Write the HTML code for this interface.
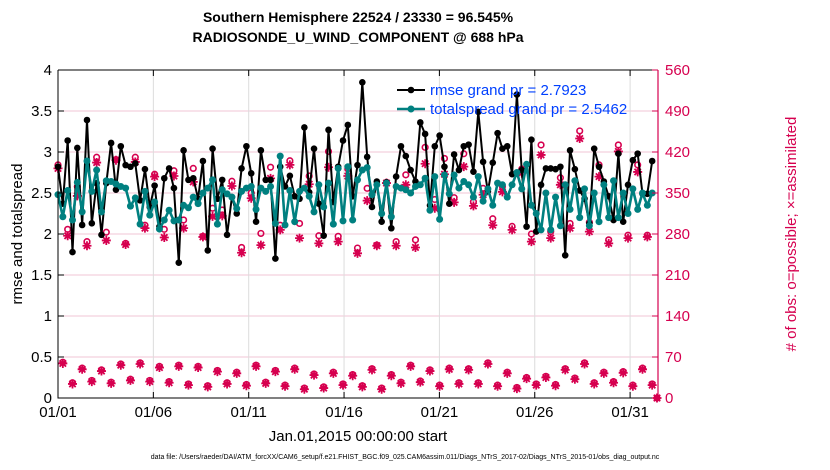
<!DOCTYPE html>
<html><head><meta charset="utf-8">
<style>
html,body{margin:0;padding:0;background:#fff;}
svg{display:block;font-family:"Liberation Sans",Arial,sans-serif;}
</style></head>
<body>
<svg id="chart" width="830" height="470" viewBox="0 0 830 470" xmlns="http://www.w3.org/2000/svg">
<rect x="0" y="0" width="830" height="470" fill="#fff"/>
<text x="358" y="22" text-anchor="middle" font-size="14" font-weight="bold">Southern Hemisphere 22524 / 23330 = 96.545%</text>
<text x="358" y="42" text-anchor="middle" font-size="14" font-weight="bold">RADIOSONDE_U_WIND_COMPONENT @ 688 hPa</text>
<g id="grid"></g>
<g id="obs"></g>
<g id="lines"></g>
<g id="axes"></g>
<text x="0" y="0" transform="translate(22,234) rotate(-90)" text-anchor="middle" font-size="15">rmse and totalspread</text>
<text x="0" y="0" transform="translate(796,234) rotate(-90)" text-anchor="middle" font-size="15" fill="#d6004f"># of obs: o=possible; ×=assimilated</text>
<text x="358" y="441" text-anchor="middle" font-size="15">Jan.01,2015 00:00:00 start</text>
<text x="405" y="459" text-anchor="middle" font-size="7">data file: /Users/raeder/DAI/ATM_forcXX/CAM6_setup/f.e21.FHIST_BGC.f09_025.CAM6assim.011/Diags_NTrS_2017-02/Diags_NTrS_2015-01/obs_diag_output.nc</text>
<g id="legend"></g>
</svg>
<script>
const rmse=[2.82,2.37,3.14,1.78,3.05,2.11,3.39,2.13,2.62,1.99,2.62,3.11,2.54,3.07,2.84,2.82,2.86,2.41,2.79,2.33,2.59,2.09,2.68,2.80,2.56,1.65,3.02,2.66,2.68,2.43,2.89,1.80,3.04,2.43,2.66,1.99,2.45,2.25,2.80,3.07,2.74,2.15,3.02,2.66,
2.66,1.70,2.82,2.58,2.71,2.46,2.43,3.30,2.51,3.04,2.37,1.98,3.27,2.39,2.82,3.14,3.33,2.46,2.84,3.85,2.94,2.33,2.64,2.15,2.63,2.07,2.70,3.07,2.95,2.78,2.64,3.36,3.22,2.35,3.07,3.20,2.82,2.37,2.97,2.78,3.07,
3.09,2.76,3.49,2.88,2.52,2.87,3.23,3.04,3.07,2.73,3.70,2.78,2.09,3.15,2.03,2.60,2.80,2.80,2.79,2.82,1.74,3.02,2.79,2.53,2.43,2.13,3.04,2.82,2.64,2.46,2.17,2.98,2.15,2.60,2.90,2.98,2.49,2.49,2.89,null];
const spread=[2.48,2.21,2.53,2.17,2.63,2.27,2.89,2.52,2.78,2.27,2.65,2.64,2.61,2.58,2.56,2.34,2.44,2.12,2.52,2.23,2.39,2.06,2.17,2.29,2.16,2.17,2.35,2.32,2.45,2.37,2.50,2.56,2.66,2.12,2.54,2.49,2.45,2.31,2.52,2.56,2.58,2.30,2.56,2.52,
2.58,2.13,2.95,2.11,2.53,2.15,2.52,2.56,2.46,2.27,2.60,2.33,2.62,2.12,2.80,2.16,2.82,2.17,2.66,2.78,2.81,2.48,2.60,2.25,2.62,2.21,2.58,2.56,2.54,2.50,2.58,2.60,2.68,2.29,2.70,2.18,2.72,2.49,2.72,2.56,2.64,
2.60,2.45,2.70,2.40,2.55,2.35,2.62,2.60,2.45,2.60,2.75,2.55,2.85,2.35,2.25,2.05,2.50,2.05,2.45,2.10,2.60,2.30,2.65,2.20,2.55,2.10,2.50,2.15,2.60,2.20,2.65,2.20,2.50,2.25,2.55,2.30,2.50,2.35,2.50,null];
const upperPossible=[398,288,361,267,411,283,407,264,411,295,382,288,388,304,392,276,324,321,370,257,350,281,
394,295,405,298,379,277,421,276,391,256,358,261,368,267,381,270,428,339,409,342,417,
335,358,306,361,293,391,280,432,284,376,298,456,300,398,270,432,278,398,278];
const upperAssim=[392,277,345,260,402,269,406,262,403,290,378,274,379,290,369,275,310,311,362,248,341,261,
375,287,398,273,365,264,394,267,379,247,337,260,367,260,364,257,400,324,382,334,395,
328,347,295,352,287,384,267,415,273,364,290,443,284,378,264,421,273,386,275];
const lowerAssim=[59,24,49,28,46,25,56,30,58,28,52,26,54,22,52,19,45,24,42,21,54,25,45,20,49,15,39,17,42,22,38,19,
48,15,38,25,54,27,46,20,49,24,48,24,58,20,42,16,33,22,35,21,48,32,58,24,42,26,43,20,49,22];
const lastObs=0;
const dayTicks=[0,5,10,15,20,25,30];
const dayLabels=["01/01","01/06","01/11","01/16","01/21","01/26","01/31"];
const leftTicks=[0,0.5,1,1.5,2,2.5,3,3.5,4];
const leftTickLabels=["0","0.5","1","1.5","2","2.5","3","3.5","4"];
const rightTicks=[0,70,140,210,280,350,420,490,560];
const legendLabels=["rmse grand pr = 2.7923","totalspread grand pr = 2.5462"];

const NS="http://www.w3.org/2000/svg";
const L=58,R=658,T=70,B=398;
const N=rmse.length;
const xi=i=>L+i*(599/(N-1));
const xd=d=>L+d*19.07;
const yl=v=>B-(v/4)*(B-T);
const yr=v=>B-(v/560)*(B-T);
function mk(tag,attrs,parent){const e=document.createElementNS(NS,tag);for(const k in attrs)e.setAttribute(k,attrs[k]);parent.appendChild(e);return e;}
const CR="#d6004f",TE="#008080";
const grid=document.getElementById('grid'),axes=document.getElementById('axes'),obs=document.getElementById('obs'),lines=document.getElementById('lines'),leg=document.getElementById('legend');
rightTicks.forEach(v=>{const g=mk('line',{x1:L,x2:R,y1:yr(v),y2:yr(v),stroke:'#f2c6d6','stroke-width':1},grid);

});
dayTicks.forEach(d=>{const g=mk('line',{x1:xd(d),x2:xd(d),y1:T,y2:B,stroke:'#dcdcdc','stroke-width':1},grid);

});
function star(x,y,parent){const s=4.5,q=3.2;const g=mk('path',{d:`M${x-s},${y}H${x+s}M${x},${y-s}V${y+s}M${x-q},${y-q}L${x+q},${y+q}M${x-q},${y+q}L${x+q},${y-q}`,stroke:CR,'stroke-width':1.8,fill:'none'},parent);

}
function circ(x,y,parent){const c=mk('circle',{cx:x,cy:y,r:2.8,fill:'none',stroke:CR,'stroke-width':1.6},parent);

}
upperPossible.forEach((v,k)=>circ(xi(2*k),yr(v),obs));
upperAssim.forEach((v,k)=>star(xi(2*k),yr(v),obs));
lowerAssim.forEach((v,k)=>{circ(xi(2*k+1),yr(v+2),obs);star(xi(2*k+1),yr(v),obs);});
star(xi(N-1),yr(lastObs),obs);circ(xi(N-1),yr(lastObs),obs);
function series(vals,color,w,r,name){let d='';vals.forEach((v,i)=>{if(v==null)return;d+=(d?'L':'M')+xi(i).toFixed(1)+','+yl(v).toFixed(1);});
const p=mk('path',{d:d,stroke:color,'stroke-width':w,fill:'none','stroke-linejoin':'round'},lines);


vals.forEach((v,i)=>{if(v==null)return;const c=mk('circle',{cx:xi(i),cy:yl(v),r:r,fill:color},lines);

});}
series(rmse,'#000',2,3.3,'rmse');
series(spread,TE,2.6,3.5,'totalspread');
const box=mk('path',{d:`M${L},${T}H${R}M${L},${T}V${B}H${R}`,stroke:'#000','stroke-width':1,fill:'none'},axes);


const ra=mk('line',{x1:R,x2:R,y1:T,y2:B,stroke:CR,'stroke-width':1.2},axes);


leftTicks.forEach((v,i)=>{mk('line',{x1:L,x2:L+6,y1:yl(v),y2:yl(v),stroke:'#000'},axes);
const t=mk('text',{x:L-6,y:yl(v)+5,'text-anchor':'end','font-size':15},axes);t.textContent=leftTickLabels[i];

});
rightTicks.forEach(v=>{mk('line',{x1:R-6,x2:R,y1:yr(v),y2:yr(v),stroke:CR},axes);
const t=mk('text',{x:R+7,y:yr(v)+5,'font-size':15,fill:CR},axes);t.textContent=String(v);

});
dayTicks.forEach((d,i)=>{mk('line',{x1:xd(d),x2:xd(d),y1:B,y2:B-6,stroke:'#000'},axes);mk('line',{x1:xd(d),x2:xd(d),y1:T,y2:T+6,stroke:'#000'},axes);
const t=mk('text',{x:xd(d),y:B+19,'text-anchor':'middle','font-size':15},axes);t.textContent=dayLabels[i];

});
[['#000',2,3.3],[TE,2.6,3.5]].forEach((s,i)=>{const y=90+i*19;
mk('line',{x1:397,x2:425,y1:y,y2:y,stroke:s[0],'stroke-width':s[1]},leg);
mk('circle',{cx:411,cy:y,r:s[2],fill:s[0]},leg);
const t=mk('text',{x:430,y:y+5,'font-size':15,fill:'#0040ff'},leg);t.textContent=legendLabels[i];

});
</script>
</body></html>
